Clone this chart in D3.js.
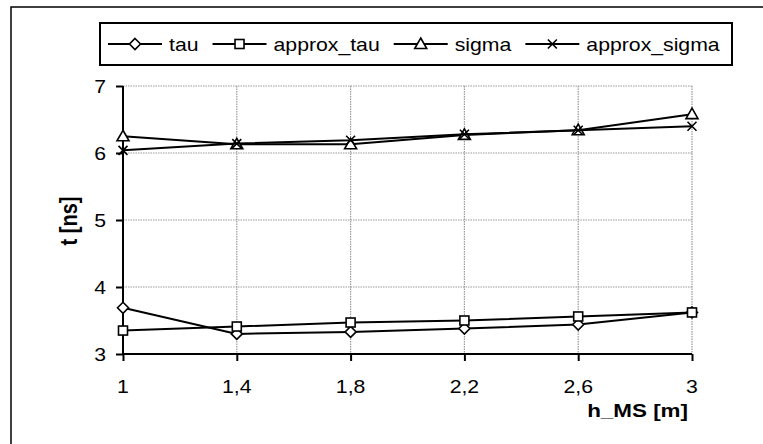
<!DOCTYPE html>
<html>
<head>
<meta charset="utf-8">
<script src="https://cdn.jsdelivr.net/npm/d3@7"></script>
<style>
  html, body { margin: 0; padding: 0; background: #fff; }
  svg { display: block; }
  text { font-family: "Liberation Sans", Arial, sans-serif; fill: #000; }
</style>
</head>
<body>
<svg id="chart" width="763" height="444"></svg>
<script>
// Antenna height categories and tick labels
const categories = ["1", "1,4", "1,8", "2,2", "2,6", "3"];
const yTicks = [3, 4, 5, 6, 7];

// Delay spread values in ns
const tau         = [3.69, 3.30, 3.33, 3.38, 3.44, 3.62];
const approxTau   = [3.35, 3.41, 3.47, 3.50, 3.56, 3.62];
const sigma       = [6.25, 6.13, 6.13, 6.27, 6.34, 6.58];
const approxSigma = [6.04, 6.14, 6.19, 6.28, 6.34, 6.40];

const seriesNames = ["tau", "approx_tau", "sigma", "approx_sigma"];
const seriesValues = [tau, approxTau, sigma, approxSigma];
const seriesMarkers = ["diamond", "square", "triangle", "cross"];

const STRETCH = 1.18; // glyphs are drawn a little wide

const svg = d3.select("#chart");

// Outer chart frame (runs off the right and bottom edges)
svg.append("rect")
  .attr("x", 11).attr("y", 7)
  .attr("width", 780).attr("height", 460)
  .attr("fill", "none").attr("stroke", "#000").attr("stroke-width", 1.5);

const plot = { left: 123, right: 692, top: 86, bottom: 354 };

const x = d3.scalePoint().domain(categories).range([plot.left, plot.right]);
const y = d3.scaleLinear().domain([3, 7]).range([plot.bottom, plot.top]);

function stretchedText(parent, tx, ty, str, opts = {}) {
  const t = parent.append("text")
    .attr("transform", `translate(${tx},${ty}) scale(${STRETCH},1)` + (opts.rotate ? ` rotate(${opts.rotate})` : ""))
    .attr("text-anchor", opts.anchor || "start")
    .style("font-size", (opts.size || 18) + "px")
    .style("font-weight", opts.bold ? "bold" : "normal")
    .text(str);
  return t;
}

// Gridlines
const grid = svg.append("g");
grid.selectAll("line.h").data(yTicks.filter(d => d > 3)).join("line")
  .attr("x1", plot.left).attr("x2", plot.right)
  .attr("y1", d => y(d)).attr("y2", d => y(d))
  .attr("stroke", "#9a9a9a").attr("stroke-width", 1.2).attr("stroke-dasharray", "1.5,1");
grid.selectAll("line.v").data(categories.slice(1)).join("line")
  .attr("x1", d => x(d)).attr("x2", d => x(d))
  .attr("y1", plot.top).attr("y2", plot.bottom)
  .attr("stroke", "#9a9a9a").attr("stroke-width", 1.2).attr("stroke-dasharray", "1.5,1");

// Axes
const yAxis = d3.axisLeft(y).tickValues(yTicks).tickSize(7).tickFormat("");
const xAxis = d3.axisBottom(x).tickSize(7).tickFormat("");

const gy = svg.append("g").attr("transform", `translate(${plot.left},0)`).call(yAxis);
const gx = svg.append("g").attr("transform", `translate(0,${plot.bottom})`).call(xAxis);
[gy, gx].forEach(g => {
  g.select(".domain").remove();
  g.selectAll(".tick line").attr("stroke", "#000").attr("stroke-width", 2);
});
svg.append("line").attr("x1", plot.left).attr("x2", plot.left)
  .attr("y1", plot.top).attr("y2", plot.bottom)
  .attr("stroke", "#000").attr("stroke-width", 2);
svg.append("line").attr("x1", plot.left).attr("x2", plot.right)
  .attr("y1", plot.bottom).attr("y2", plot.bottom)
  .attr("stroke", "#000").attr("stroke-width", 2);

// Tick labels
yTicks.forEach(v => stretchedText(svg, 106, y(v) + 7, String(v), { anchor: "end", size: 18 }));
categories.forEach(c => stretchedText(svg, x(c), plot.bottom + 39, c, { anchor: "middle", size: 18 }));

// Axis titles
stretchedText(svg, 688, 417, "h_MS [m]", { anchor: "end", size: 19, bold: true });
stretchedText(svg, 77, 221, "t [ns]", { anchor: "middle", size: 20, bold: true, rotate: -90 });

// Marker shapes
function drawMarker(g, type, cx, cy) {
  const s = { stroke: "#000", "stroke-width": 1.6, fill: "#fff" };
  let el;
  if (type === "diamond") {
    el = g.append("path").attr("d", `M${cx},${cy - 5.5}L${cx + 5.5},${cy}L${cx},${cy + 5.5}L${cx - 5.5},${cy}Z`);
  } else if (type === "square") {
    el = g.append("rect").attr("x", cx - 4.5).attr("y", cy - 4.5).attr("width", 9).attr("height", 9);
  } else if (type === "triangle") {
    el = g.append("path").attr("d", `M${cx},${cy - 6}L${cx + 6},${cy + 4.5}L${cx - 6},${cy + 4.5}Z`);
  } else {
    el = g.append("path").attr("d", `M${cx - 4.5},${cy - 4.5}L${cx + 4.5},${cy + 4.5}M${cx - 4.5},${cy + 4.5}L${cx + 4.5},${cy - 4.5}`);
    s.fill = "none";
  }
  Object.entries(s).forEach(([k, v]) => el.attr(k, v));
}

// Series lines and markers
const line = d3.line().x((d, i) => x(categories[i])).y(d => y(d));
seriesValues.forEach((vals, si) => {
  const g = svg.append("g");
  g.append("path").datum(vals).attr("d", line)
    .attr("fill", "none").attr("stroke", "#000").attr("stroke-width", 2);
  vals.forEach((v, i) => drawMarker(g, seriesMarkers[si], x(categories[i]), y(v)));
});

// Legend
svg.append("rect")
  .attr("x", 100).attr("y", 23).attr("width", 632).attr("height", 42)
  .attr("fill", "#fff").attr("stroke", "#000").attr("stroke-width", 2);
let lx = 108;
const ly = 44;
seriesNames.forEach((name, i) => {
  svg.append("line").attr("x1", lx).attr("x2", lx + 54).attr("y1", ly).attr("y2", ly)
    .attr("stroke", "#000").attr("stroke-width", 2);
  drawMarker(svg, seriesMarkers[i], lx + 27, ly);
  const t = stretchedText(svg, lx + 61, ly + 7, name, { size: 18 });
  const w = t.node().getComputedTextLength() * STRETCH;
  lx = lx + 61 + w + 14;
});
</script>
</body>
</html>
